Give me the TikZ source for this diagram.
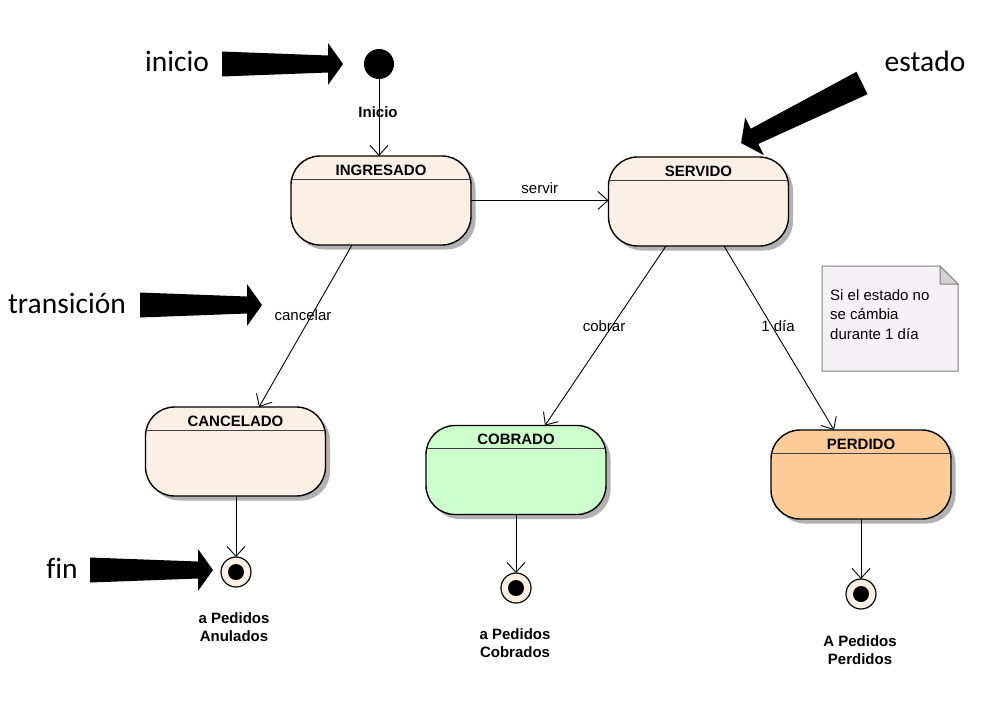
\documentclass[tikz,border=0pt]{standalone}
\usepackage{fontspec}
\setmainfont{Liberation Sans}
\newfontfamily\calib[Ligatures=NoCommon]{Carlito}
\usetikzlibrary{arrows.meta,shadows,calc}
\definecolor{stbeige}{RGB}{251,240,227}
\definecolor{stgreen}{RGB}{204,255,204}
\definecolor{storange}{RGB}{255,204,153}
\definecolor{notefill}{RGB}{246,241,246}
\definecolor{notedraw}{RGB}{128,128,128}
\definecolor{foldfill}{RGB}{212,208,212}
\tikzset{
  statebox/.style={draw=black, line width=1.4pt, rounded corners=29pt, inner sep=0pt, outer sep=0pt,
    minimum width=180pt, minimum height=89pt, fill=stbeige,
    drop shadow={shadow xshift=4.5pt, shadow yshift=-4.5pt, fill=black!30, opacity=1}},
  sttitle/.style={font=\fontsize{15pt}{17pt}\selectfont\bfseries, anchor=center, inner sep=0pt},
  trans/.style={draw=black, line width=0.9pt, -{Straight Barb[length=10pt,width=18pt,line width=0.9pt]}},
  elabel/.style={font=\fontsize{15pt}{17pt}\selectfont, inner sep=0pt},
  blabel/.style={font=\fontsize{15pt}{18pt}\selectfont\bfseries, inner sep=0pt, align=center},
  annot/.style={font=\calib\fontsize{29.5pt}{32pt}\selectfont, inner sep=0pt},
  finalst/.style={circle, draw=black, line width=1.2pt, fill=stbeige, minimum size=30pt, inner sep=0pt, outer sep=0pt},
}
\newcommand\fatarrow[3]{%
  \begin{scope}[shift={(#1)}, rotate=#2]
    \fill[black] (0,-12.5) -- ({#3-15},-8.5) -- ({#3-15},-21) -- (#3,0) -- ({#3-15},21) -- ({#3-15},8.5) -- (0,12.5) -- cycle;
  \end{scope}}
\begin{document}
\begin{tikzpicture}[x=1pt,y=-1pt]
\useasboundingbox (0,0) rectangle (1008,716);
% states
\node[statebox] (ing) at (381,200.5) {};
\node[statebox] (serv) at (698.5,201.5) {};
\node[statebox] (canc) at (235.5,451.5) {};
\node[statebox, fill=stgreen] (cob) at (516,470) {};
\node[statebox, fill=storange] (perd) at (861,474.5) {};
\foreach \n/\t in {ing/INGRESADO, serv/SERVIDO, canc/CANCELADO, cob/COBRADO, perd/PERDIDO}{
  \node[sttitle] (\n-t) at ($(\n.north)+(0,-14pt)$) {\t};
  \draw[line width=1pt, draw=black!75] ($(\n.north west)+(0.8pt,-23pt)$) -- ($(\n.north east)+(-0.8pt,-23pt)$);
}
% initial
\node[circle, fill=black, minimum size=30pt, inner sep=0pt] (init) at (379,64) {};
\draw[trans] (init) -- (ing.north -| init);
\node[elabel, font=\fontsize{15pt}{17pt}\selectfont\bfseries] (inilab) at (378,112) {Inicio};
% transitions
\draw[trans] (ing.east) -- (serv.west |- ing.east) node[elabel, pos=0.5, above=6pt] (servirlab) {servir};
\draw[trans] ($(ing.south)+(-29,0)$) -- ($(canc.north)+(23.5,0)$);
\node[elabel] (canlab) at (303,315) {cancelar};
\draw[trans] ($(serv.south)+(-32.5,0)$) -- ($(cob.north)+(29,0)$);
\node[elabel] (coblab) at (604,326) {cobrar};
\draw[trans] ($(serv.south)+(25.5,0)$) -- ($(perd.north)+(-27,0)$);
\node[elabel] (dialab) at (778,326) {1 día};
% final states
\node[finalst] (f1) at (236,572) {};
\node[finalst] (f2) at (516,588) {};
\node[finalst] (f3) at (861,594) {};
\foreach \f in {f1,f2,f3}{\fill[black] (\f.center) circle (8pt);}
\draw[trans] (canc.south -| f1) -- (f1.north);
\draw[trans] (cob.south -| f2) -- (f2.north);
\draw[trans] (perd.south -| f3) -- (f3.north);
\node[blabel] (l1) at (234,627) {a Pedidos\\ Anulados};
\node[blabel] (l2) at (515,643) {a Pedidos\\ Cobrados};
\node[blabel] (l3) at (860,650.5) {A Pedidos\\ Perdidos};
% note
\draw[draw=notedraw, fill=notefill, line width=1pt] (822,266) -- (940,266) -- (958,284) -- (958,371) -- (822,371) -- cycle;
\draw[draw=notedraw, fill=foldfill, line width=1pt] (940,266) -- (940,284) -- (958,284) -- cycle;
\node[elabel, anchor=north west, align=left, font=\fontsize{15pt}{19.5pt}\selectfont] (note) at (830,289) {Si el estado no\\se cámbia\\durante 1 día};
% annotations
\node[annot] (a1) at (177,61) {inicio};
\node[annot] (a2) at (925,61) {estado};
\node[annot] (a3) at (67,303) {transición};
\node[annot] (a4) at (62,568) {fin};
\fatarrow{222,64}{0}{121}
\fatarrow{140,305}{0}{122}
\fatarrow{90,570}{0}{123}
\fatarrow{862,83}{206.4}{135}
\end{tikzpicture}
\end{document}
